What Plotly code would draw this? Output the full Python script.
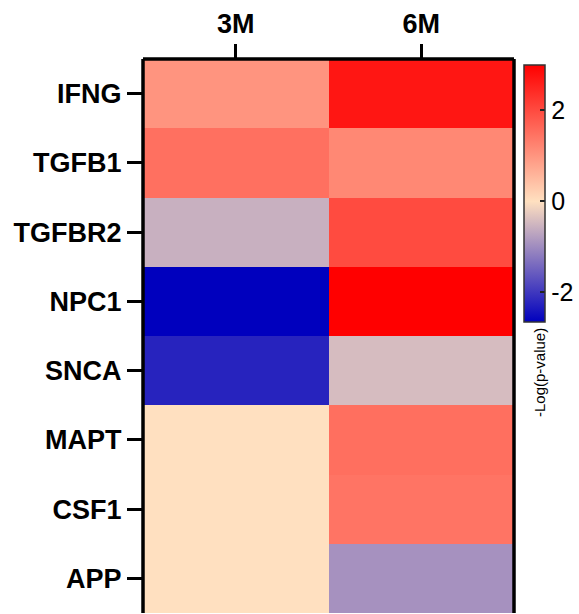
import plotly.graph_objects as go

# ---- data ----
genes = ["IFNG", "TGFB1", "TGFBR2", "NPC1", "SNCA", "MAPT", "CSF1", "APP"]
timepoints = ["3M", "6M"]
val_3m = [1.02, 1.50, -0.57, -2.65, -2.24, 0.0, 0.0, 0.0]
val_6m = [2.70, 1.18, 2.00, 3.00, -0.43, 1.52, 1.44, -0.93]
cbar_ticks = [-2, 0, 2]
cbar_title = "-Log(p-value)"

zmin, zmax = -2.65, 3.0
z = [[a, b] for a, b in zip(val_3m, val_6m)]

W, H = 579, 614
L, R, T, B = 143, 514, 59, 613  # plot area in px

def px_x(x):
    return (x - L) / (R - L)

def px_y(y):
    return (B - y) / (B - T)

mid = (0 - zmin) / (zmax - zmin)
colorscale = [[0, "#0000BE"], [mid, "#FFE0C0"], [1, "#FF0000"]]

cb_top, cb_bot, cb_left, cb_w = 65, 322, 524, 21

fig = go.Figure(go.Heatmap(
    x=timepoints, y=genes, z=z,
    zmin=zmin, zmax=zmax, colorscale=colorscale,
    colorbar=dict(
        x=px_x(cb_left), xanchor="left", xpad=0,
        y=px_y(cb_top), yanchor="top", ypad=0,
        len=(cb_bot - cb_top) / (B - T), lenmode="fraction",
        thickness=cb_w, thicknessmode="pixels",
        outlinewidth=1.5, outlinecolor="#333333",
        tickvals=cbar_ticks, ticktext=[str(t) for t in cbar_ticks],
        ticks="inside", ticklen=5, tickwidth=2, tickcolor="#222222",
        tickfont=dict(family="Liberation Sans, Arial", size=25, color="black"),
    ),
))

fig.update_xaxes(side="top", ticks="outside", ticklen=14, tickwidth=3, tickcolor="black",
                 tickfont=dict(family="Liberation Sans, Arial", size=27, color="black", weight="bold"),
                 showgrid=False, zeroline=False, showline=False)
fig.update_yaxes(autorange="reversed", ticks="outside", ticklen=15, tickwidth=3, tickcolor="black",
                 tickfont=dict(family="Liberation Sans, Arial", size=27, color="black", weight="bold"),
                 showgrid=False, zeroline=False, showline=False)

shapes = [
    dict(type="line", xref="paper", yref="paper", x0=0, x1=0, y0=0, y1=1, line=dict(color="black", width=3.5)),
    dict(type="line", xref="paper", yref="paper", x0=0, x1=1, y0=1, y1=1, line=dict(color="black", width=3.5)),
    dict(type="line", xref="paper", yref="paper", x0=1, x1=1, y0=0, y1=1, line=dict(color="black", width=3.5)),
]
# left-side tick marks on the colour bar
for v in cbar_ticks:
    ypx = cb_top + (zmax - v) / (zmax - zmin) * (cb_bot - cb_top)
    shapes.append(dict(type="line", xref="paper", yref="paper",
                       x0=px_x(cb_left), x1=px_x(cb_left + 5), y0=px_y(ypx), y1=px_y(ypx),
                       line=dict(color="#222222", width=2)))

fig.update_layout(
    width=W, height=H,
    margin=dict(l=L, r=W - R, t=T, b=H - B, pad=0, autoexpand=False),
    paper_bgcolor="white", plot_bgcolor="white",
    shapes=shapes,
    annotations=[dict(text=cbar_title, textangle=-90, xref="paper", yref="paper",
                      x=px_x(539), y=px_y(373), xanchor="center", yanchor="middle",
                      showarrow=False,
                      font=dict(family="Liberation Sans, Arial", size=15, color="black"))],
)

fig.write_html("out.html", config={"displayModeBar": False},
               post_script="document.body.style.margin='0';document.body.style.overflow='hidden';")
